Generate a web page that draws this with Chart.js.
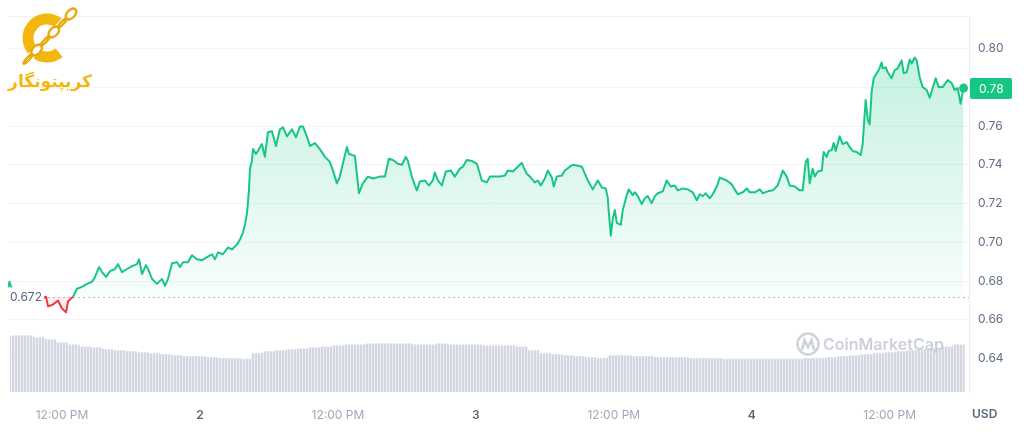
<!DOCTYPE html>
<html>
<head>
<meta charset="utf-8">
<script src="https://cdn.jsdelivr.net/npm/chart.js@4.4.1/dist/chart.umd.min.js"></script>
<style>
  html, body { margin: 0; padding: 0; background: #fff; }
  #wrap { width: 1024px; height: 434px; position: relative; }
</style>
</head>
<body>
<div id="wrap"><canvas id="priceChart"></canvas></div>
<script>
// hours counted from 00:00 of day 1
const times = [
  7.30, 7.43, 7.65, 8.35, 9.22, 10.09, 10.61, 10.78, 11.22, 11.65,
  12.00, 12.35, 12.52, 12.78, 12.96, 13.30, 13.74, 14.17, 14.61, 14.87,
  15.22, 15.48, 15.83, 16.17, 16.61, 16.87, 17.22, 17.65, 18.09, 18.52,
  18.70, 18.96, 19.30, 19.48, 19.83, 20.26, 20.70, 20.96, 21.22, 21.57,
  22.00, 22.26, 22.52, 22.96, 23.30, 23.74, 24.17, 24.61, 25.04, 25.30,
  25.57, 26.00, 26.43, 26.78, 27.22, 27.48, 27.74, 27.91, 28.09, 28.17,
  28.26, 28.35, 28.52, 28.61, 28.87, 29.04, 29.39, 29.65, 29.91, 30.26,
  30.61, 30.96, 31.22, 31.57, 32.00, 32.35, 32.70, 32.96, 33.30, 33.57,
  34.00, 34.43, 34.87, 35.30, 35.57, 35.91, 36.17, 36.43, 36.78, 36.96,
  37.48, 37.83, 38.17, 38.61, 39.04, 39.65, 40.09, 40.43, 40.78, 41.22,
  41.57, 41.91, 42.09, 42.43, 42.70, 42.87, 43.13, 43.57, 43.91, 44.26,
  44.43, 44.70, 45.04, 45.39, 45.83, 46.17, 46.61, 46.87, 47.22, 47.65,
  48.09, 48.52, 48.96, 49.22, 49.65, 50.09, 50.52, 50.78, 51.22, 51.65,
  52.00, 52.17, 52.43, 52.70, 53.13, 53.39, 53.65, 54.00, 54.26, 54.61,
  54.78, 55.04, 55.48, 55.74, 56.17, 56.43, 56.87, 57.22, 57.48, 57.74,
  58.17, 58.61, 58.96, 59.30, 59.48, 59.57, 59.74, 59.91, 60.09, 60.26,
  60.61, 60.78, 61.13, 61.30, 61.65, 61.83, 62.09, 62.43, 62.70, 62.96,
  63.30, 63.57, 63.83, 64.26, 64.61, 64.96, 65.30, 65.57, 66.00, 66.43,
  66.87, 67.22, 67.48, 67.74, 68.00, 68.35, 68.61, 68.96, 69.22, 69.83,
  70.26, 70.52, 70.78, 71.22, 71.57, 71.83, 72.26, 72.70, 72.96, 73.39,
  73.83, 74.26, 74.70, 75.04, 75.30, 75.74, 76.17, 76.43, 76.70, 76.87,
  77.04, 77.30, 77.48, 77.74, 78.09, 78.26, 78.52, 78.70, 78.96, 79.13,
  79.30, 79.65, 79.91, 80.26, 80.52, 80.78, 81.13, 81.48, 81.65, 81.91,
  82.09, 82.26, 82.43, 82.61, 82.87, 83.04, 83.30, 83.39, 83.65, 83.83,
  84.17, 84.43, 84.70, 85.04, 85.22, 85.48, 85.74, 85.91, 86.17, 86.35,
  86.61, 86.87, 87.22, 87.48, 87.74, 88.00, 88.26, 88.61, 89.04, 89.39,
  89.65, 89.91, 90.17, 90.35, 90.43
];

const prices = [
  0.6760, 0.6796, 0.6755, 0.6735, 0.6714, 0.6704, 0.6719, 0.6669, 0.6679, 0.6699,
  0.6658, 0.6638, 0.6694, 0.6709, 0.6719, 0.6760, 0.6770, 0.6785, 0.6796, 0.6821,
  0.6872, 0.6846, 0.6821, 0.6851, 0.6862, 0.6887, 0.6846, 0.6862, 0.6877, 0.6887,
  0.6912, 0.6836, 0.6882, 0.6862, 0.6811, 0.6785, 0.6811, 0.6775, 0.6811, 0.6892,
  0.6897, 0.6872, 0.6897, 0.6897, 0.6933, 0.6912, 0.6907, 0.6923, 0.6938, 0.6912,
  0.6948, 0.6938, 0.6973, 0.6963, 0.6989, 0.7014, 0.7050, 0.7090, 0.7151, 0.7202,
  0.7268, 0.7380, 0.7420, 0.7481, 0.7456, 0.7471, 0.7507, 0.7441, 0.7568, 0.7573,
  0.7497, 0.7583, 0.7593, 0.7547, 0.7583, 0.7542, 0.7598, 0.7598, 0.7547, 0.7497,
  0.7512, 0.7481, 0.7441, 0.7415, 0.7370, 0.7304, 0.7339, 0.7405, 0.7492, 0.7456,
  0.7446, 0.7253, 0.7304, 0.7339, 0.7329, 0.7339, 0.7339, 0.7431, 0.7425, 0.7405,
  0.7400, 0.7441, 0.7420, 0.7339, 0.7293, 0.7268, 0.7314, 0.7319, 0.7293, 0.7319,
  0.7360, 0.7319, 0.7293, 0.7365, 0.7370, 0.7339, 0.7380, 0.7390, 0.7425, 0.7420,
  0.7405, 0.7319, 0.7309, 0.7339, 0.7339, 0.7339, 0.7344, 0.7370, 0.7365, 0.7390,
  0.7410, 0.7385, 0.7354, 0.7339, 0.7309, 0.7319, 0.7293, 0.7329, 0.7370, 0.7334,
  0.7288, 0.7339, 0.7344, 0.7370, 0.7390, 0.7400, 0.7395, 0.7390, 0.7354, 0.7319,
  0.7273, 0.7319, 0.7283, 0.7278, 0.7227, 0.7151, 0.7034, 0.7121, 0.7166, 0.7100,
  0.7090, 0.7166, 0.7243, 0.7273, 0.7243, 0.7258, 0.7238, 0.7197, 0.7227, 0.7238,
  0.7202, 0.7238, 0.7253, 0.7263, 0.7319, 0.7288, 0.7293, 0.7268, 0.7278, 0.7273,
  0.7258, 0.7217, 0.7248, 0.7238, 0.7253, 0.7227, 0.7248, 0.7288, 0.7334, 0.7319,
  0.7299, 0.7273, 0.7248, 0.7258, 0.7278, 0.7258, 0.7258, 0.7273, 0.7253, 0.7263,
  0.7268, 0.7293, 0.7370, 0.7339, 0.7293, 0.7288, 0.7268, 0.7268, 0.7415, 0.7431,
  0.7304, 0.7380, 0.7339, 0.7365, 0.7370, 0.7466, 0.7441, 0.7471, 0.7476, 0.7512,
  0.7471, 0.7547, 0.7507, 0.7517, 0.7492, 0.7471, 0.7466, 0.7451, 0.7507, 0.7735,
  0.7634, 0.7608, 0.7776, 0.7847, 0.7873, 0.7888, 0.7928, 0.7898, 0.7903, 0.7878,
  0.7847, 0.7888, 0.7898, 0.7939, 0.7873, 0.7878, 0.7944, 0.7923, 0.7954, 0.7939,
  0.7852, 0.7801, 0.7786, 0.7746, 0.7796, 0.7847, 0.7801, 0.7801, 0.7837, 0.7822,
  0.7786, 0.7796, 0.7715, 0.7776, 0.7796
];

// rolling 24h volume, one bar per hour (millions)
const volumeHours = [
  8, 9, 10, 11, 12, 13, 14, 15, 16, 17, 18, 19,
  20, 21, 22, 23, 24, 25, 26, 27, 28, 29, 30, 31,
  32, 33, 34, 35, 36, 37, 38, 39, 40, 41, 42, 43,
  44, 45, 46, 47, 48, 49, 50, 51, 52, 53, 54, 55,
  56, 57, 58, 59, 60, 61, 62, 63, 64, 65, 66, 67,
  68, 69, 70, 71, 72, 73, 74, 75, 76, 77, 78, 79,
  80, 81, 82, 83, 84, 85, 86, 87, 88, 89, 90
];
const volumes = [
  228, 228, 220, 212, 200, 192, 184, 180, 172, 168, 164, 160,
  156, 152, 148, 144, 144, 140, 136, 136, 132, 156, 164, 168,
  172, 176, 180, 184, 188, 192, 192, 196, 196, 196, 196, 192,
  192, 196, 192, 192, 192, 188, 188, 188, 184, 168, 156, 152,
  148, 144, 140, 136, 148, 148, 144, 144, 140, 140, 140, 136,
  136, 136, 132, 132, 132, 132, 132, 132, 132, 136, 136, 140,
  144, 148, 152, 156, 160, 164, 168, 172, 176, 184, 192
];

const basePrice = 0.672;
const yTicks = [0.64, 0.66, 0.68, 0.70, 0.72, 0.74, 0.76, 0.78, 0.80];
const xTickHours = [12, 24, 36, 48, 60, 72, 84];
const xTickLabels = ['12:00 PM', '2', '12:00 PM', '3', '12:00 PM', '4', '12:00 PM'];

const GREEN = '#16c784';
const RED = '#ea3943';
const FONT = 'Inter, "Noto Sans", sans-serif';

function stripePattern() {
    const c = document.createElement('canvas');
    c.width = 3;
    c.height = 4;
    const g = c.getContext('2d');
    g.fillStyle = '#eef0f5';
    g.fillRect(0, 0, 3, 4);
    g.fillStyle = '#d2d7e2';
    g.fillRect(0, 0, 2, 4);
    return g.createPattern(c, 'repeat');
}

function drawLogo(ctx) {
    const gold = '#f4b70e';
    ctx.save();
    ctx.strokeStyle = gold;
    ctx.lineWidth = 11;
    ctx.beginPath();
    ctx.arc(47, 38, 19, -0.28 * Math.PI, 0.28 * Math.PI, true);
    ctx.stroke();

    // chain across the C
    ctx.strokeStyle = '#fff';
    ctx.lineWidth = 7;
    ctx.beginPath();
    ctx.moveTo(72, 13);
    ctx.lineTo(27, 60);
    ctx.stroke();
    const ang = Math.atan2(60 - 13, 27 - 72);
    for (let i = 0; i < 6; i++) {
        const t = i / 5;
        const cx = 71 + (28 - 71) * t;
        const cy = 14 + (59 - 14) * t;
        ctx.save();
        ctx.translate(cx, cy);
        ctx.rotate(ang);
        ctx.strokeStyle = '#eaa90a';
        ctx.lineWidth = 2.4;
        ctx.beginPath();
        if (i % 2 === 0) {
            ctx.ellipse(0, 0, 6.5, 4, 0, 0, Math.PI * 2);
        } else {
            ctx.ellipse(0, 0, 6.5, 1.4, 0, 0, Math.PI * 2);
        }
        ctx.stroke();
        ctx.restore();
    }

    ctx.fillStyle = gold;
    ctx.font = 'bold 17px "DejaVu Sans"';
    ctx.textAlign = 'center';
    ctx.textBaseline = 'middle';
    ctx.fillText('کریپتونگار', 50, 83);
    ctx.restore();
}

function drawWatermark(ctx) {
    ctx.save();
    ctx.globalAlpha = 0.85;
    ctx.strokeStyle = '#c4c9d3';
    ctx.fillStyle = '#c4c9d3';
    ctx.lineWidth = 2.4;
    ctx.beginPath();
    ctx.arc(808, 344, 10.5, 0, Math.PI * 2);
    ctx.stroke();
    ctx.beginPath();
    ctx.moveTo(802, 350);
    ctx.lineTo(804.5, 340);
    ctx.lineTo(808, 347);
    ctx.lineTo(811.5, 340);
    ctx.lineTo(814, 350);
    ctx.stroke();
    ctx.font = '600 16px ' + FONT;
    ctx.textAlign = 'left';
    ctx.textBaseline = 'middle';
    ctx.fillText('CoinMarketCap', 823, 345);
    ctx.restore();
}

const decorPlugin = {
    id: 'decor',
    beforeDatasetsDraw(chart) {
        const { ctx, chartArea, scales } = chart;
        ctx.save();
        ctx.strokeStyle = '#eff1f5';
        ctx.lineWidth = 1;
        ctx.beginPath();
        ctx.moveTo(chartArea.left, chartArea.top + 0.5);
        ctx.lineTo(chartArea.right, chartArea.top + 0.5);
        ctx.stroke();

        const by = Math.round(scales.y.getPixelForValue(basePrice)) + 0.5;
        ctx.strokeStyle = '#b9bfca';
        ctx.setLineDash([2, 3]);
        ctx.beginPath();
        ctx.moveTo(chartArea.left, by);
        ctx.lineTo(chartArea.right, by);
        ctx.stroke();
        ctx.restore();
    },
    afterDraw(chart) {
        const { ctx, chartArea, scales } = chart;
        const by = scales.y.getPixelForValue(basePrice);

        // base price label
        ctx.save();
        ctx.fillStyle = '#fff';
        ctx.fillRect(chartArea.left - 2, by - 9, 38, 18);
        ctx.fillStyle = '#58667e';
        ctx.font = '12px ' + FONT;
        ctx.textAlign = 'left';
        ctx.textBaseline = 'middle';
        ctx.fillText(basePrice.toFixed(3), 10, by + 1);

        // current price badge
        const last = prices[prices.length - 1];
        const ly = scales.y.getPixelForValue(last);
        ctx.fillStyle = GREEN;
        ctx.beginPath();
        ctx.roundRect(chartArea.right + 1, ly - 10, 42, 21, 2);
        ctx.fill();
        ctx.fillStyle = '#fff';
        ctx.fillText(last.toFixed(2), chartArea.right + 10, ly + 1);

        // currency unit
        ctx.fillStyle = '#58667e';
        ctx.font = '600 12px ' + FONT;
        ctx.fillText('USD', 972, 414);
        ctx.restore();

        drawWatermark(ctx);
        drawLogo(ctx);
    }
};

const ctx = document.getElementById('priceChart').getContext('2d');

const priceChart = new Chart(ctx, {
    data: {
        datasets: [
            {
                type: 'line',
                label: 'Price',
                data: prices.map((p, i) => ({ x: times[i], y: p })),
                yAxisID: 'y',
                order: 0,
                borderColor: GREEN,
                borderWidth: 2,
                borderJoinStyle: 'round',
                tension: 0,
                pointRadius: (c) => c.dataIndex === prices.length - 1 ? 4.5 : 0,
                pointBackgroundColor: GREEN,
                pointBorderWidth: 0,
                segment: {
                    borderColor: (c) => (c.p0.parsed.y < basePrice && c.p1.parsed.y < basePrice) ? RED : GREEN
                },
                fill: { target: { value: basePrice }, below: 'rgba(234, 57, 67, 0.08)' },
                backgroundColor: (c) => {
                    const area = c.chart.chartArea;
                    if (!area) return 'rgba(22, 199, 132, 0.15)';
                    const yb = c.chart.scales.y.getPixelForValue(basePrice);
                    const grad = c.chart.ctx.createLinearGradient(0, area.top + 30, 0, yb);
                    grad.addColorStop(0, 'rgba(22, 199, 132, 0.26)');
                    grad.addColorStop(1, 'rgba(22, 199, 132, 0.03)');
                    return grad;
                }
            },
            {
                type: 'bar',
                label: 'Volume',
                data: volumes.map((v, i) => ({ x: volumeHours[i], y: v })),
                yAxisID: 'yVol',
                order: 1,
                backgroundColor: stripePattern(),
                borderWidth: 0,
                barPercentage: 1,
                categoryPercentage: 1
            }
        ]
    },
    options: {
        responsive: true,
        maintainAspectRatio: false,
        animation: false,
        events: [],
        layout: { padding: { left: 8, top: 10, right: 0, bottom: 0 } },
        plugins: {
            legend: { display: false },
            tooltip: { enabled: false }
        },
        scales: {
            x: {
                type: 'linear',
                offset: false,
                min: 7.3,
                max: 90.9,
                grid: { display: false, offset: false },
                border: { display: false },
                afterBuildTicks: (scale) => {
                    scale.ticks = xTickHours.map(v => ({ value: v }));
                },
                afterFit: (scale) => { scale.height = 42; },
                ticks: {
                    autoSkip: false,
                    maxRotation: 0,
                    padding: 8,
                    callback: (value, index) => xTickLabels[index],
                    color: (c) => xTickLabels[c.index] && xTickLabels[c.index].length < 3 ? '#58667e' : '#a1a7b8',
                    font: (c) => ({
                        family: FONT,
                        size: 12,
                        weight: xTickLabels[c.index] && xTickLabels[c.index].length < 3 ? '600' : '400'
                    })
                }
            },
            y: {
                position: 'right',
                min: 0.6227,
                max: 0.8167,
                grid: { color: '#f3f4f7', drawTicks: false },
                border: { color: '#eceef2' },
                afterBuildTicks: (scale) => {
                    scale.ticks = yTicks.map(v => ({ value: v }));
                },
                afterFit: (scale) => { scale.width = 55; },
                ticks: {
                    padding: 9,
                    color: '#616e85',
                    font: { family: FONT, size: 12 },
                    callback: (value) => Number(value).toFixed(2)
                }
            },
            yVol: {
                display: false,
                min: 0,
                max: 1528
            }
        }
    },
    plugins: [decorPlugin]
});
</script>
</body>
</html>
